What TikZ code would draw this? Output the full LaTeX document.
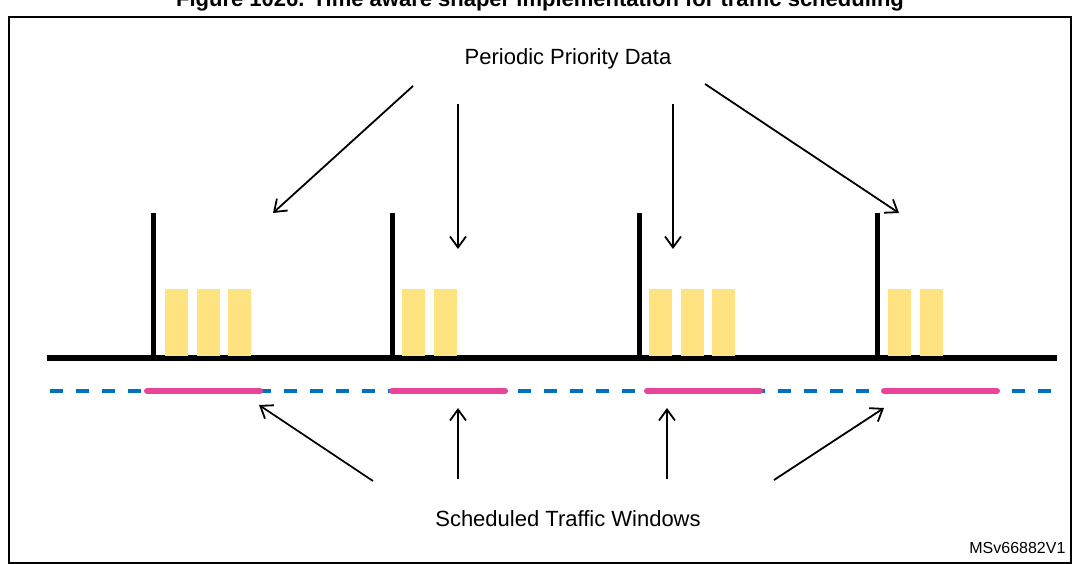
\documentclass[tikz,border=0pt]{standalone}
\usepackage{fontspec}
\setmainfont{Liberation Sans}
\usetikzlibrary{arrows.meta}

\tikzset{
  post/.style={line width=5pt},
  slot/.style={fill={rgb,255:red,255;green,227;blue,128},draw=none},
  win/.style={line width=6pt,line cap=round,draw={rgb,255:red,232;green,68;blue,154}},
  ptr/.style={line width=1.8pt,-{Straight Barb[length=11pt,width=16pt]}},
  lbl/.style={font=\fontsize{22}{26}\selectfont}
}

\begin{document}
\begin{tikzpicture}[x=1pt,y=-1pt]
\useasboundingbox (0,0) rectangle (1080,564);
\clip (0,0) rectangle (1080,564);

% title, cut at the top edge
\node[font=\bfseries\fontsize{22}{26}\selectfont] (title) at (540,1) {Figure 1026. Time aware shaper implementation for traffic scheduling};
% frame
\draw[line width=1.5pt] (9,17) rectangle (1071,563);

% time line and posts
\draw[line width=6pt] (47,358) -- (1057,358);
\foreach \x in {153,392,639,877}
  \draw[post] (\x,358) -- (\x,213);

% yellow slots
\foreach \x in {165,197,228,402,434,649,681,712,888,920}
  \fill[slot] (\x,289) rectangle +(23,67);

% schedule line
\draw[line width=4.5pt,dash pattern=on 13pt off 13pt,draw={rgb,255:red,0;green,112;blue,192}] (50,391) -- (1055,391);
\foreach \x in {147,392,647,884}
  \draw[win] (\x,391) -- +(113,0);

% labels
\node[lbl] (prio) at (568,59) {Periodic Priority Data};
\node[lbl] (sched) at (568,519) {Scheduled Traffic Windows};
\node[anchor=east,font=\fontsize{16}{19}\selectfont] (ref) at (1069,548) {MSv66882V1};

% arrow ends
\coordinate (p1) at (413,86);  \coordinate (q1) at (273,213);
\coordinate (p2) at (458,104); \coordinate (q2) at (458,249);
\coordinate (p3) at (673,104); \coordinate (q3) at (673,249);
\coordinate (p4) at (705,84);  \coordinate (q4) at (899,213);
\coordinate (s1) at (373,481); \coordinate (w1) at (259,405);
\coordinate (s2) at (458,479); \coordinate (w2) at (458,408);
\coordinate (s3) at (667,479); \coordinate (w3) at (667,408);
\coordinate (s4) at (774,480); \coordinate (w4) at (884,408);
\foreach \i in {1,2,3,4} {
  \draw[ptr] (p\i) -- (q\i);
  \draw[ptr] (s\i) -- (w\i);
}
\end{tikzpicture}
\end{document}
